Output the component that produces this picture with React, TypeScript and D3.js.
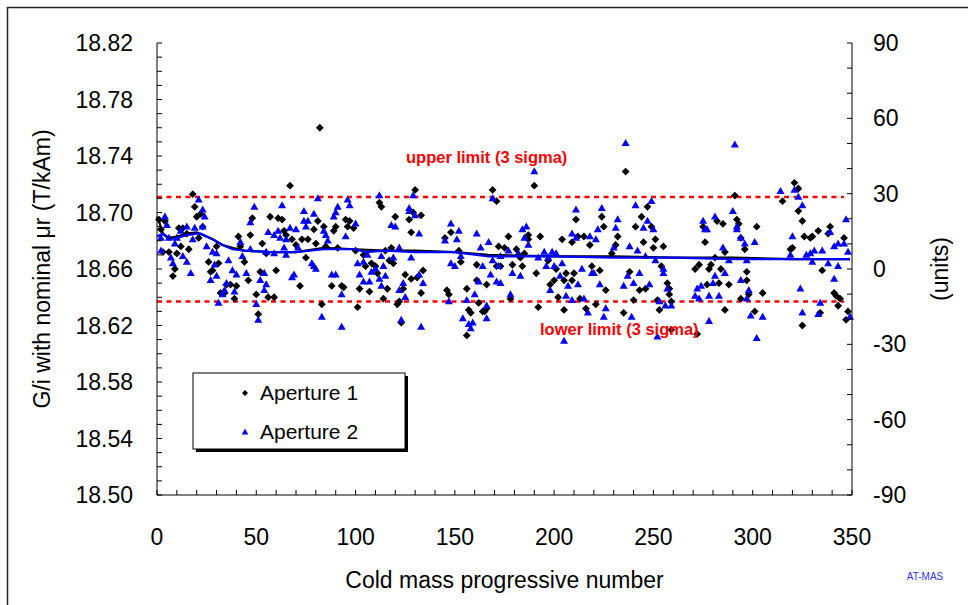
import React from "react";
import * as d3 from "d3";

// ---- data ----
const xTicks = [0, 50, 100, 150, 200, 250, 300, 350];
const yLeftTicks = [18.5, 18.54, 18.58, 18.62, 18.66, 18.7, 18.74, 18.78, 18.82];
const yRightTicks = [-90, -60, -30, 0, 30, 60, 90];
const seriesNames = ["Aperture 1", "Aperture 2"];
const upperLimit = 18.711;
const lowerLimit = 18.637;
const limitSpan = [0, 346];

const aperture1: [number, number][] = [
  [1,18.695],[2,18.688],[3,18.672],[4,18.694],[6,18.672],[8,18.655],[9,18.660],[10,18.671],[11,18.689],[12,18.676],
  [13,18.689],[15,18.685],[16,18.674],[18,18.713],[19,18.704],[20,18.697],[21,18.682],[22,18.699],[23,18.690],[26,18.665],
  [27,18.658],[28,18.659],[30,18.676],[31,18.664],[32,18.643],[34,18.643],[35,18.649],[37,18.649],[39,18.639],[40,18.648],
  [41,18.683],[42,18.676],[44,18.665],[46,18.652],[47,18.684],[48,18.696],[50,18.642],[51,18.628],[52,18.658],[53,18.678],
  [55,18.671],[56,18.640],[57,18.697],[59,18.640],[60,18.659],[61,18.696],[63,18.695],[64,18.687],[65,18.684],[67,18.719],
  [68,18.681],[70,18.677],[72,18.648],[73,18.681],[75,18.668],[76,18.681],[79,18.688],[80,18.678],[81,18.694],[82,18.760],
  [83,18.635],[84,18.690],[85,18.676],[88,18.648],[89,18.687],[90,18.690],[91,18.675],[93,18.648],[94,18.647],[95,18.695],
  [96,18.690],[97,18.694],[99,18.689],[100,18.673],[101,18.633],[102,18.646],[104,18.670],[105,18.662],[107,18.644],[108,18.664],
  [110,18.662],[111,18.657],[112,18.707],[113,18.704],[114,18.639],[115,18.673],[116,18.646],[117,18.666],[118,18.675],[119,18.664],
  [120,18.697],[121,18.635],[122,18.637],[123,18.622],[124,18.646],[125,18.656],[127,18.695],[128,18.686],[129,18.700],[128,18.653],
  [130,18.716],[131,18.654],[133,18.698],[133,18.643],[134,18.659],[145,18.682],[146,18.645],[147,18.642],[148,18.686],[152,18.673],
  [153,18.665],[156,18.646],[156,18.613],[157,18.631],[158,18.629],[161,18.663],[161,18.652],[162,18.636],[164,18.630],[165,18.630],
  [166,18.649],[166,18.632],[169,18.716],[171,18.708],[171,18.662],[172,18.676],[173,18.662],[175,18.675],[177,18.683],[178,18.639],
  [179,18.663],[181,18.674],[183,18.668],[184,18.662],[185,18.671],[187,18.684],[187,18.681],[190,18.719],[191,18.657],[192,18.633],
  [193,18.683],[197,18.666],[198,18.649],[200,18.652],[201,18.660],[202,18.640],[204,18.681],[205,18.631],[205,18.652],[206,18.657],
  [209,18.652],[209,18.679],[210,18.657],[211,18.695],[212,18.683],[213,18.639],[215,18.683],[216,18.632],[218,18.677],[219,18.662],
  [221,18.635],[223,18.659],[224,18.697],[225,18.690],[226,18.645],[229,18.671],[231,18.677],[232,18.683],[235,18.629],[236,18.729],
  [238,18.658],[240,18.638],[241,18.690],[243,18.645],[244,18.697],[245,18.679],[246,18.646],[247,18.704],[249,18.690],[250,18.675],
  [251,18.681],[252,18.638],[253,18.631],[254,18.662],[255,18.676],[257,18.650],[258,18.646],[258,18.642],[259,18.617],[259,18.637],
  [271,18.660],[272,18.614],[273,18.663],[275,18.690],[276,18.679],[277,18.649],[278,18.660],[279,18.663],[281,18.668],[282,18.694],
  [283,18.650],[284,18.660],[285,18.692],[286,18.672],[286,18.631],[288,18.649],[291,18.712],[292,18.695],[293,18.692],[294,18.682],
  [294,18.639],[296,18.674],[297,18.658],[297,18.652],[298,18.642],[301,18.630],[302,18.690],[305,18.643],[315,18.708],[320,18.675],
  [319,18.674],[321,18.721],[323,18.717],[323,18.701],[325,18.694],[325,18.620],[326,18.683],[329,18.682],[330,18.683],[333,18.687],
  [334,18.629],[335,18.659],[338,18.685],[339,18.690],[341,18.643],[342,18.641],[343,18.634],[344,18.639],[346,18.682],[347,18.624],
  [348,18.630]
];

const aperture2: [number, number][] = [
  [2,18.682],[2,18.673],[4,18.697],[5,18.691],[6,18.682],[7,18.668],[8,18.664],[9,18.678],[10,18.682],[12,18.687],
  [13,18.669],[15,18.690],[15,18.665],[17,18.657],[18,18.681],[19,18.689],[21,18.709],[23,18.702],[23,18.690],[24,18.697],
  [25,18.676],[27,18.652],[28,18.672],[29,18.663],[30,18.671],[30,18.655],[31,18.636],[33,18.642],[34,18.645],[35,18.650],
  [36,18.666],[38,18.659],[39,18.644],[40,18.656],[42,18.679],[43,18.669],[45,18.657],[47,18.693],[47,18.674],[49,18.704],
  [50,18.635],[51,18.624],[52,18.652],[54,18.657],[54,18.645],[55,18.649],[55,18.672],[56,18.686],[59,18.684],[59,18.671],
  [61,18.687],[62,18.682],[63,18.705],[64,18.675],[65,18.670],[65,18.681],[67,18.689],[68,18.654],[69,18.656],[70,18.688],
  [71,18.675],[74,18.701],[74,18.694],[75,18.690],[76,18.694],[78,18.664],[79,18.699],[79,18.662],[80,18.660],[81,18.710],
  [83,18.626],[84,18.687],[85,18.684],[86,18.680],[88,18.656],[89,18.697],[90,18.700],[90,18.656],[91,18.704],[93,18.642],
  [93,18.619],[95,18.683],[96,18.709],[97,18.705],[100,18.692],[101,18.664],[102,18.656],[104,18.651],[104,18.665],[106,18.670],
  [107,18.651],[108,18.658],[110,18.660],[112,18.653],[112,18.712],[113,18.669],[113,18.648],[114,18.662],[115,18.655],[118,18.691],
  [119,18.668],[120,18.690],[122,18.645],[122,18.675],[123,18.624],[124,18.650],[125,18.640],[127,18.703],[127,18.701],[128,18.668],
  [129,18.712],[130,18.698],[132,18.656],[132,18.685],[133,18.619],[134,18.650],[145,18.680],[147,18.637],[148,18.664],[148,18.692],
  [150,18.662],[151,18.681],[152,18.687],[153,18.669],[154,18.625],[156,18.638],[157,18.621],[158,18.618],[159,18.622],[160,18.642],
  [161,18.685],[162,18.651],[163,18.675],[164,18.662],[166,18.625],[166,18.634],[167,18.679],[168,18.656],[169,18.710],[169,18.666],
  [171,18.651],[172,18.662],[173,18.669],[173,18.650],[177,18.673],[178,18.642],[179,18.657],[182,18.671],[183,18.655],[184,18.688],
  [185,18.682],[186,18.690],[187,18.677],[190,18.729],[192,18.668],[195,18.672],[196,18.662],[197,18.668],[198,18.645],[199,18.672],
  [200,18.662],[201,18.671],[203,18.655],[204,18.664],[205,18.609],[206,18.641],[207,18.648],[209,18.685],[209,18.638],[211,18.682],
  [211,18.702],[212,18.649],[214,18.660],[215,18.639],[217,18.629],[218,18.683],[219,18.657],[220,18.657],[221,18.681],[222,18.688],
  [223,18.649],[224,18.703],[225,18.626],[226,18.632],[230,18.675],[231,18.689],[232,18.695],[235,18.648],[236,18.749],[237,18.655],
  [238,18.676],[239,18.626],[240,18.650],[241,18.705],[242,18.673],[243,18.657],[245,18.689],[246,18.669],[247,18.694],[248,18.649],
  [249,18.708],[250,18.688],[251,18.666],[252,18.612],[253,18.637],[255,18.660],[255,18.657],[256,18.634],[257,18.646],[259,18.634],
  [271,18.641],[272,18.646],[273,18.639],[274,18.648],[275,18.694],[276,18.688],[277,18.688],[278,18.623],[278,18.641],[280,18.650],
  [281,18.697],[281,18.655],[283,18.641],[285,18.675],[286,18.657],[288,18.666],[290,18.701],[291,18.748],[292,18.690],[292,18.688],
  [294,18.682],[294,18.652],[296,18.678],[297,18.666],[297,18.639],[298,18.645],[299,18.627],[301,18.679],[302,18.611],[305,18.626],
  [314,18.715],[319,18.670],[320,18.683],[321,18.716],[323,18.711],[324,18.646],[325,18.705],[325,18.629],[327,18.670],[329,18.671],
  [330,18.665],[331,18.673],[333,18.628],[334,18.636],[335,18.673],[338,18.664],[339,18.686],[341,18.676],[341,18.653],[343,18.678],
  [343,18.662],[346,18.678],[347,18.695],[348,18.672],[349,18.626]
];

const mean1: [number, number][] = [
  [0,18.697],[1,18.694],[2,18.689],[3,18.685],[6,18.682],[10,18.683],[15,18.685],[20,18.686],[28,18.681],[33,18.677],
  [38,18.675],[44,18.673],[57,18.672],[70,18.672],[84,18.675],[100,18.674],[115,18.673],[130,18.673],[150,18.672],[167,18.670],
  [200,18.669],[230,18.669],[260,18.668],[290,18.668],[320,18.667],[349,18.667]
];

const mean2: [number, number][] = [
  [0,18.683],[3,18.685],[6,18.681],[10,18.682],[15,18.684],[20,18.685],[22,18.685],[28,18.681],[33,18.677],[38,18.674],
  [44,18.673],[57,18.672],[70,18.672],[84,18.674],[100,18.674],[105,18.672],[115,18.673],[130,18.672],[150,18.672],[155,18.671],
  [167,18.669],[200,18.669],[230,18.668],[260,18.668],[290,18.667],[320,18.667],[349,18.667]
];

// ---- layout ----
const W = 968;
const H = 605;
const left = 157;
const right = 852;
const top = 43;
const bottom = 495;
const font = "'Liberation Sans', Arial, sans-serif";

const x = d3.scaleLinear().domain([0, 350]).range([left, right]);
const yL = d3.scaleLinear().domain([18.5, 18.82]).range([bottom, top]);
const yR = d3.scaleLinear().domain([-90, 90]).range([bottom, top]);

const diamond = (r: number) => `M0,${-r}L${r},0L0,${r}L${-r},0Z`;
const triangle = (w: number, h: number) =>
  `M0,${-h * 0.6}L${w / 2},${h * 0.4}L${-w / 2},${h * 0.4}Z`;

export default function App() {
  const line = d3
    .line<[number, number]>()
    .x((d) => x(d[0]))
    .y((d) => yL(d[1]));

  const xMinor = d3.range(0, 351, 10);
  const yLMinor = d3.range(0, 33).map((i) => 18.5 + i * 0.01);
  const yRMinor = d3.range(-90, 91, 10);

  return (
    <div style={{ position: "fixed", left: 0, top: 0 }}>
      <svg width={W} height={H} style={{ display: "block", background: "#fff" }} fontFamily={font}>
        <rect x={0} y={0} width={W} height={H} fill="#fff" />
        <rect x={7.5} y={7.5} width={1000} height={1000} fill="none" stroke="#222" strokeWidth={1.5} />

        {/* limit lines */}
        {[upperLimit, lowerLimit].map((v, i) => (
          <line
            key={"lim" + i}
            x1={x(limitSpan[0])}
            x2={x(limitSpan[1])}
            y1={yL(v)}
            y2={yL(v)}
            stroke="#ff0000"
            strokeWidth={2.5}
            strokeDasharray="5,4.5"
          />
        ))}

        {/* Aperture 1 */}
        {aperture1.map((d, i) => (
          <path key={"a" + i} d={diamond(3.9)} transform={`translate(${x(d[0])},${yL(d[1])})`} fill="#000" />
        ))}
        {/* Aperture 2 */}
        {aperture2.map((d, i) => (
          <path key={"b" + i} d={triangle(8, 7)} transform={`translate(${x(d[0])},${yL(d[1])})`} fill="#0000ff" />
        ))}

        {/* running means */}
        <path d={line(mean1) || ""} fill="none" stroke="#000" strokeWidth={2.2} />
        <path d={line(mean2) || ""} fill="none" stroke="#0000ff" strokeWidth={2.2} />

        {/* axes */}
        <line x1={left} x2={left} y1={top} y2={bottom} stroke="#000" strokeWidth={1} />
        <line x1={right} x2={right} y1={top} y2={bottom} stroke="#000" strokeWidth={1} />
        <line x1={left} x2={right} y1={bottom} y2={bottom} stroke="#000" strokeWidth={1} />
        {xMinor.map((t) => (
          <line key={"xt" + t} x1={x(t)} x2={x(t)} y1={bottom} y2={bottom - 5} stroke="#000" />
        ))}
        {yLMinor.map((t, i) => (
          <line key={"yl" + i} x1={left} x2={left + 5} y1={yL(t)} y2={yL(t)} stroke="#000" />
        ))}
        {yRMinor.map((t) => (
          <line key={"yr" + t} x1={right} x2={right - 5} y1={yR(t)} y2={yR(t)} stroke="#000" />
        ))}

        {xTicks.map((t) => (
          <text key={"xl" + t} x={x(t)} y={545} textAnchor="middle" fontSize={23}>
            {t}
          </text>
        ))}
        {yLeftTicks.map((t) => (
          <text key={"yll" + t} x={133} y={yL(t)} dy="0.35em" textAnchor="end" fontSize={23}>
            {t.toFixed(2)}
          </text>
        ))}
        {yRightTicks.map((t) => (
          <text key={"yrl" + t} x={873} y={yR(t)} dy="0.35em" textAnchor="start" fontSize={23}>
            {t}
          </text>
        ))}

        <text x={(left + right) / 2} y={588} textAnchor="middle" fontSize={23}>
          Cold mass progressive number
        </text>
        <text transform={`translate(42,${(top + bottom) / 2}) rotate(-90)`} dy="0.35em" textAnchor="middle" fontSize={23}>
          G/i with nominal μr (T/kAm)
        </text>
        <text transform={`translate(940,${(top + bottom) / 2}) rotate(-90)`} dy="0.35em" textAnchor="middle" fontSize={23}>
          (units)
        </text>

        <text x={406} y={163} fill="#ff0000" fontWeight="bold" fontSize={16.5}>
          upper limit (3 sigma)
        </text>
        <text x={540} y={335} fill="#ff0000" fontWeight="bold" fontSize={16.5}>
          lower limit (3 sigma)
        </text>

        <text x={925} y={580} textAnchor="middle" fontSize={10} fill="#3333ff">
          AT-MAS
        </text>

        {/* legend */}
        <rect x={196} y={376} width={212} height={76} fill="#000" />
        <rect x={193} y={373} width={212} height={76} fill="#fff" stroke="#000" strokeWidth={1} />
        <path d={diamond(3)} transform="translate(245,393)" fill="#000" />
        <path d={triangle(6.5, 6)} transform="translate(245,432)" fill="#0000ff" />
        <text x={260} y={393} dy="0.35em" fontSize={21}>
          {seriesNames[0]}
        </text>
        <text x={260} y={432} dy="0.35em" fontSize={21}>
          {seriesNames[1]}
        </text>
      </svg>
    </div>
  );
}
